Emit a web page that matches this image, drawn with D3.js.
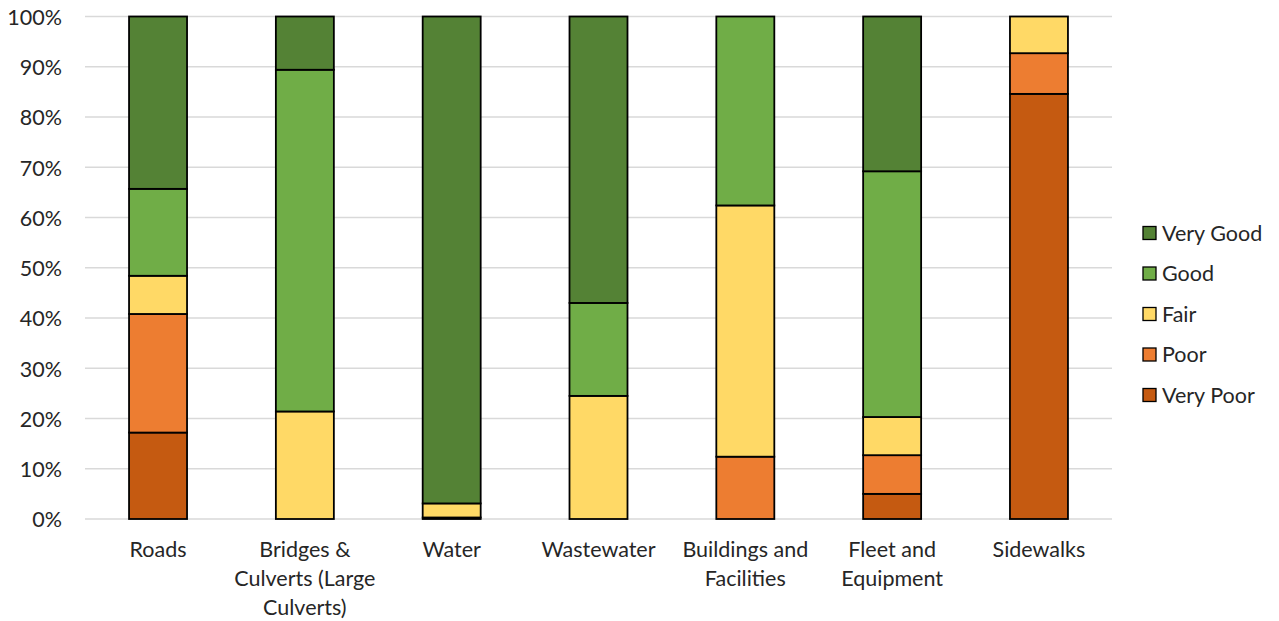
<!DOCTYPE html>
<html>
<head>
<meta charset="utf-8">
<script src="https://cdn.jsdelivr.net/npm/d3@7"></script>
<style>
  html, body { margin: 0; padding: 0; background: #fff; }
  svg { display: block; }
  text { font-family: Lato, "Open Sans", sans-serif; fill: #262626; }
</style>
</head>
<body>
<svg id="chart" width="1279" height="621"></svg>
<script>
// Asset categories (multi-line labels split on "\n")
const categories = [
  "Roads",
  "Bridges &\nCulverts (Large\nCulverts)",
  "Water",
  "Wastewater",
  "Buildings and\nFacilities",
  "Fleet and\nEquipment",
  "Sidewalks"
];

// Condition ratings, bottom of stack first
const conditions = ["Very Poor", "Poor", "Fair", "Good", "Very Good"];
const colors = ["#C55A11", "#ED7D31", "#FFD966", "#70AD47", "#548235"];

// Share of each category in each condition (%)
const veryPoor = [17.2, 0, 0, 0, 0, 5.0, 84.6];
const poor     = [23.6, 0, 0.3, 0, 12.4, 7.7, 8.1];
const fair     = [7.6, 21.4, 2.8, 24.5, 50.0, 7.6, 7.3];
const good     = [17.3, 68.0, 0, 18.5, 37.6, 48.9, 0];
const veryGood = [34.3, 10.6, 96.9, 57.0, 0, 30.8, 0];

const yTicks = [0, 10, 20, 30, 40, 50, 60, 70, 80, 90, 100];

const FONT = "21.5px";

const seriesValues = [veryPoor, poor, fair, good, veryGood];
const rows = categories.map((c, i) => {
  const r = { category: c };
  conditions.forEach((k, j) => { r[k] = seriesValues[j][i]; });
  return r;
});

const svg = d3.select("#chart");
const margin = { left: 85, right: 167, top: 16.5, bottom: 102 };
const W = 1279, H = 621;

const x = d3.scaleBand()
  .domain(categories)
  .range([margin.left, W - margin.right])
  .paddingInner(0.605)
  .paddingOuter(0.3);

const y = d3.scaleLinear()
  .domain([0, 100])
  .range([H - margin.bottom, margin.top]);

// Gridlines
svg.append("g")
  .selectAll("line")
  .data(yTicks)
  .join("line")
  .attr("x1", margin.left)
  .attr("x2", W - margin.right)
  .attr("y1", d => y(d))
  .attr("y2", d => y(d))
  .attr("stroke", "#d9d9d9")
  .attr("stroke-width", 1.3);

// Y axis labels
const yAxis = d3.axisLeft(y)
  .tickValues(yTicks)
  .tickFormat(d => d + "%")
  .tickSize(0)
  .tickPadding(23);
const yg = svg.append("g")
  .attr("transform", `translate(${margin.left},0)`)
  .call(yAxis);
yg.select(".domain").remove();
yg.selectAll("text")
  .style("font-size", FONT)
  .style("font-family", "Lato, 'Open Sans', sans-serif")
  .attr("fill", "#262626")
  .attr("dy", "0.36em");

// Stacked bars
const stack = d3.stack().keys(conditions);
const layers = stack(rows);

svg.append("g")
  .selectAll("g")
  .data(layers)
  .join("g")
  .attr("fill", (d, i) => colors[i])
  .selectAll("rect")
  .data(d => d.filter(s => s[1] - s[0] > 0))
  .join("rect")
  .attr("x", d => x(d.data.category))
  .attr("width", x.bandwidth())
  .attr("y", d => y(d[1]))
  .attr("height", d => y(d[0]) - y(d[1]))
  .attr("stroke", "#000")
  .attr("stroke-width", 1.8);

// Category labels
const xg = svg.append("g");
categories.forEach(c => {
  const lines = c.split("\n");
  const t = xg.append("text")
    .attr("text-anchor", "middle")
    .attr("x", x(c) + x.bandwidth() / 2)
    .attr("y", 557)
    .style("font-size", FONT);
  lines.forEach((ln, i) => {
    t.append("tspan")
      .attr("x", x(c) + x.bandwidth() / 2)
      .attr("dy", i === 0 ? 0 : 29)
      .text(ln);
  });
});

// Legend, top entry = top of stack
const legendItems = conditions.map((k, i) => ({ k, c: colors[i] })).reverse();
const lg = svg.append("g").attr("transform", "translate(1143,0)");
const legendY = d3.scalePoint()
  .domain(legendItems.map(d => d.k))
  .range([233, 395]);
legendItems.forEach(d => {
  lg.append("rect")
    .attr("x", 0)
    .attr("y", legendY(d.k) - 6.5)
    .attr("width", 13)
    .attr("height", 13)
    .attr("fill", d.c)
    .attr("stroke", "#000")
    .attr("stroke-width", 1.3);
  lg.append("text")
    .attr("x", 19)
    .attr("y", legendY(d.k))
    .attr("dy", "0.36em")
    .style("font-size", FONT)
    .text(d.k);
});
</script>
</body>
</html>
